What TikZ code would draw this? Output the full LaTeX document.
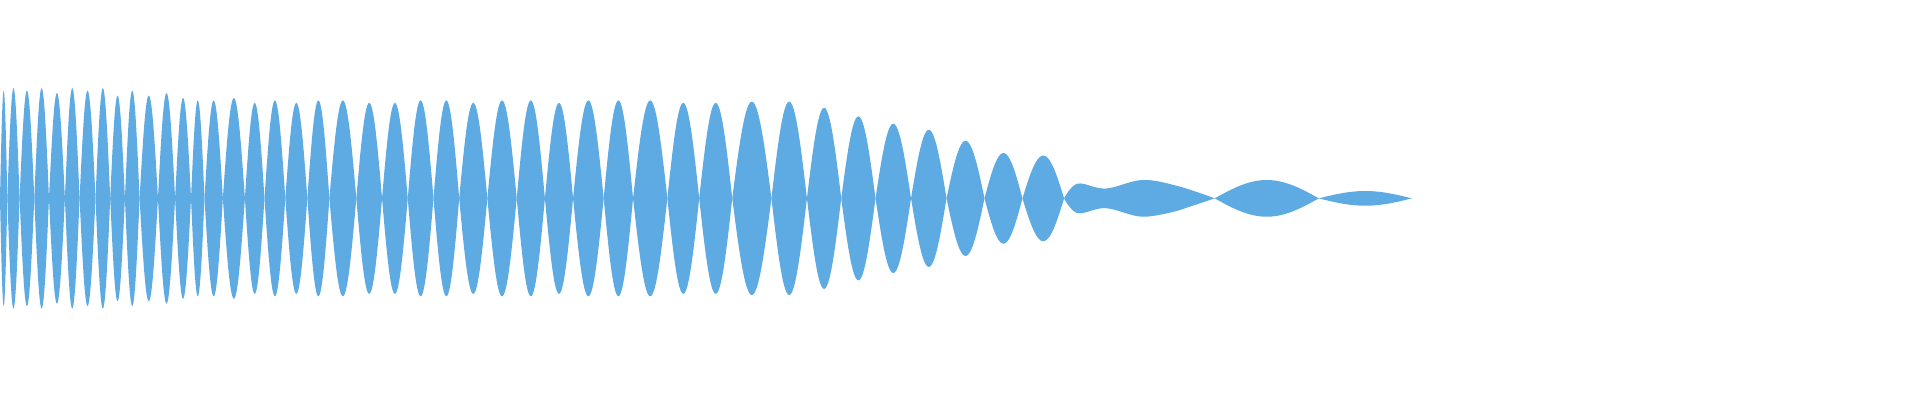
\documentclass[tikz,border=0pt]{standalone}
\definecolor{wave}{HTML}{5DABE2}
\begin{document}
\begin{tikzpicture}[x=0.612pt,y=-0.612pt]
\useasboundingbox (0,0) rectangle (1568,326.7);
\foreach \a/\b/\h in {0/6/88,6/16/90,16/28/88,28/40/90,40/53/86,53/65/90,65/78/88,78/90/90,90/102/84,102/114/88,114/129/84,129/143/86,143/156/82,156/167/80,167/182/80,182/200/82,200/216/78,216/233/80,233/251/78,251/269/80,269/291/80,291/312/78,312/333/78,333/354/80,354/375/80,375/398/78,398/422/80,422/445/80,445/468/78,468/493/80,493/517/80,517/545/80,545/571/78,571/598/78,598/630/79,630/659/79,659/687/74,687/715/67,715/744/61,744/773/56,773/804/47,804/835/37,835/869/35,992/1077/15,1077/1153/6}{
  \fill[wave] plot[domain=0:180,samples=25,variable=\t] ({\a+(\b-\a)*\t/180},{162-\h*sin(\t)})
     -- plot[domain=180:0,samples=25,variable=\t] ({\a+(\b-\a)*\t/180},{162+\h*sin(\t)}) -- cycle;
}
\fill[wave] plot[smooth,tension=0.6] coordinates {(869,162) (880,150) (903,154) (933,147) (962,152) (992,162)}
  -- plot[smooth,tension=0.6] coordinates {(962,172) (933,177) (903,170) (880,174) (869,162)} -- cycle;
\end{tikzpicture}
\end{document}
